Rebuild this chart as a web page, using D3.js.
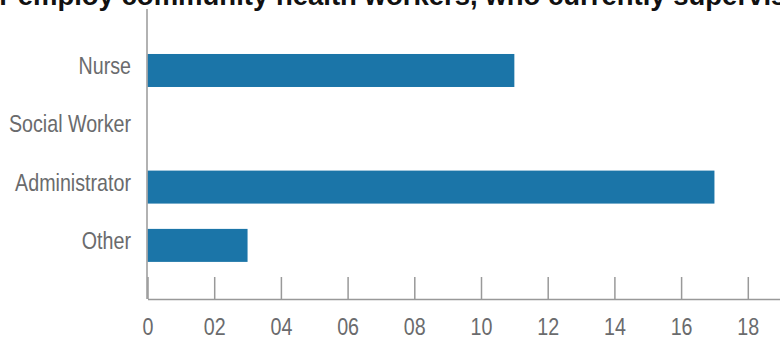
<!DOCTYPE html>
<html>
<head>
<meta charset="utf-8">
<script src="https://cdn.jsdelivr.net/npm/d3@7"></script>
<style>
  html, body { margin: 0; padding: 0; background: #fff; overflow: hidden; }
  svg { display: block; }
</style>
</head>
<body>
<svg id="chart" width="780" height="341"></svg>
<script>
const categories = ["Nurse", "Social Worker", "Administrator", "Other"];
const values = [11, 0, 17, 3];
const tickValues = [0, 2, 4, 6, 8, 10, 12, 14, 16, 18];
const tickLabels = ["0", "02", "04", "06", "08", "10", "12", "14", "16", "18"];
const titleText = "or employ community health workers, who currently supervises";

const svg = d3.select("#chart");
const labelFont = "'Liberation Sans', Arial, sans-serif";
const narrow = 0.82;
const axisColor = "#999999";
const textColor = "#6a6b6d";
const barColor = "#1b75a8";

const x = d3.scaleLinear().domain([0, 20]).range([147.5, 814.5]);
const y = d3.scaleBand().domain(categories).range([9, 299])
  .paddingInner(0.434).paddingOuter(0.704).align(0.548);

// title (cut at the top)
const titleFont = "'Liberation Sans', Arial, sans-serif";
const title = svg.append("text")
  .attr("font-family", titleFont)
  .attr("font-weight", "bold")
  .attr("font-size", 27.5)
  .attr("fill", "#111")
  .attr("y", 4.5)
  .text(titleText);
const probe = svg.append("text")
  .attr("font-family", titleFont)
  .attr("font-weight", "bold")
  .attr("font-size", 27.5)
  .attr("visibility", "hidden")
  .text("or ");
const prefixW = probe.node().getComputedTextLength();
probe.remove();
title.attr("x", 10 - prefixW);

// bars
svg.append("g").selectAll("rect")
  .data(categories.map((c, i) => ({ c, v: values[i] })))
  .join("rect")
  .attr("x", x(0))
  .attr("y", d => y(d.c))
  .attr("width", d => Math.max(0, x(d.v) - x(0)))
  .attr("height", y.bandwidth())
  .attr("fill", barColor);

// x axis
const xAxis = d3.axisBottom(x)
  .tickValues(tickValues)
  .tickFormat((d, i) => tickLabels[i])
  .tickSizeInner(-22)
  .tickSizeOuter(0)
  .tickPadding(0);

const gx = svg.append("g")
  .attr("transform", "translate(0,299)")
  .call(xAxis);
gx.select(".domain").attr("stroke", axisColor).attr("stroke-width", 1.5);
gx.selectAll(".tick line").attr("stroke", axisColor).attr("stroke-width", 1.5);
gx.selectAll(".tick text")
  .attr("font-family", labelFont)
  .attr("font-size", 24)
  .attr("fill", textColor)
  .attr("x", 0)
  .attr("y", 0)
  .attr("dy", null)
  .attr("transform", `translate(0,36) scale(${narrow},1)`);

// y axis
const yAxis = d3.axisLeft(y).tickSize(0).tickPadding(16);
const gy = svg.append("g")
  .attr("transform", "translate(147,0)")
  .call(yAxis);
gy.select(".domain").remove();
gy.append("line")
  .attr("x1", 0).attr("x2", 0)
  .attr("y1", 9).attr("y2", 299)
  .attr("stroke", axisColor).attr("stroke-width", 1.5);
gy.selectAll(".tick text")
  .attr("font-family", labelFont)
  .attr("font-size", 24)
  .attr("fill", textColor)
  .attr("x", 0)
  .attr("y", 0)
  .attr("dy", null)
  .attr("transform", `translate(-16,3.5) scale(${narrow},1)`);
gy.selectAll(".tick line").remove();
</script>
</body>
</html>
